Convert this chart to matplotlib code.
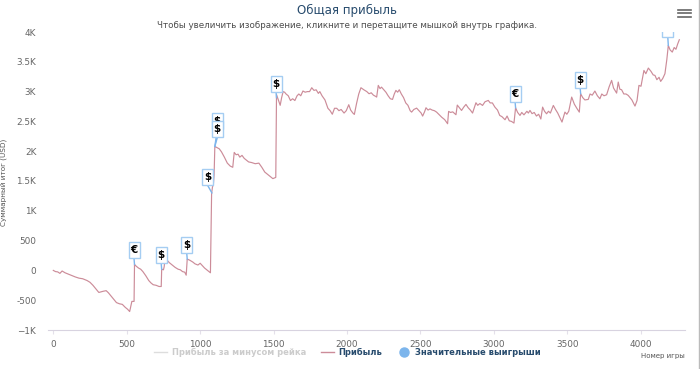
import matplotlib

matplotlib.use("Agg")
import matplotlib.pyplot as plt
from matplotlib import transforms
from matplotlib.lines import Line2D
from matplotlib.patches import Rectangle

W, H = 700, 369

game_no = [
    0, 15, 30, 45, 60, 80, 100, 125, 150, 175, 200, 230, 250, 270, 290, 310, 325, 340, 360, 375,
    390, 410, 430, 450, 470, 490, 505, 520, 535, 550, 553, 565, 580, 595, 610, 630, 650, 665, 680,
    700, 720, 735, 738, 750, 755, 760, 775, 790, 810, 830, 850, 865, 880, 895, 905, 912, 930, 950,
    965, 985, 1000, 1015, 1030, 1050, 1070, 1078, 1084, 1090, 1095, 1100, 1115, 1130, 1145, 1165,
    1185, 1205, 1222, 1232, 1245, 1258, 1270, 1285, 1300, 1315, 1330, 1350, 1375, 1400, 1420, 1440,
    1460, 1480, 1495, 1515, 1520, 1530,
    1545, 1555, 1565, 1575, 1585, 1600, 1615, 1630, 1645, 1660, 1672, 1685, 1700, 1715, 1730, 1745,
    1760, 1775, 1790, 1805, 1815, 1830, 1850, 1870, 1885, 1900, 1915, 1930, 1945, 1960, 1980, 1995,
    2012, 2025, 2040, 2050, 2065, 2080, 2095, 2115, 2135, 2150, 2165, 2180, 2195, 2202, 2213, 2225,
    2235, 2247, 2265, 2280, 2295, 2310, 2322, 2333, 2345, 2356, 2370, 2385, 2400, 2415, 2430, 2440,
    2455, 2474, 2490, 2505, 2515, 2528, 2538, 2552, 2565, 2580, 2595, 2610, 2625, 2645, 2665, 2685,
    2692, 2705, 2720, 2742, 2751, 2765, 2780, 2795, 2810, 2825, 2840, 2855, 2878, 2890, 2905, 2923,
    2940, 2962, 2975, 2990, 3007, 3025, 3040, 3055, 3076, 3090, 3105, 3120, 3137, 3148, 3162, 3178,
    3190, 3205, 3225, 3235, 3246, 3260, 3275, 3290, 3305, 3320, 3332, 3345, 3359, 3372, 3385, 3405,
    3420, 3435, 3450, 3464, 3484, 3497, 3510, 3530, 3548, 3565, 3582, 3591, 3605, 3620, 3643, 3655,
    3670, 3688, 3705, 3722, 3735, 3750, 3768, 3785, 3802, 3815, 3836, 3847, 3858, 3870, 3885, 3900,
    3915, 3940, 3961, 3975, 3988, 4002, 4022, 4035, 4052, 4070, 4085, 4097, 4110, 4125, 4136, 4150,
    4165, 4178, 4188, 4200, 4215, 4228, 4240, 4252, 4263,
]
profit = [
    0, -20, -25, -50, -10, -40, -60, -85, -110, -130, -140, -170, -200, -250, -310, -370, -360, -350,
    -340, -375, -420, -480, -540, -560, -570, -620, -650, -690, -520, -520, 100, 70, 40, 20, -20, -90,
    -170, -210, -240, -250, -270, -270, 20, 10, 60, 180, 170, 130, 90, 50, 20, 10, -20, -30, -80, 190,
    170, 140, 110, 90, 120, 80, 40, 0, -40, 1290, 1400, 1440, 1600, 2080, 2060, 2040, 1990, 1900,
    1800, 1750, 1730, 1980, 1940, 1950, 1900, 1930, 1880, 1850, 1820, 1810, 1790, 1800, 1730, 1650,
    1610, 1570, 1540, 1560, 2950, 2880,
    2770, 2900, 3000, 2990, 2960, 2930, 2850, 2880, 2850, 2930, 2960, 2930, 3010, 2990, 3000, 3000,
    3065, 3020, 3030, 2970, 3000, 2930, 2860, 2720, 2680, 2620, 2720, 2720, 2680, 2700, 2640, 2680,
    2780, 2690, 2640, 2617, 2800, 2960, 3065, 3030, 3000, 2964, 2980, 2940, 2920, 2908, 3104, 3050,
    3075, 3040, 2990, 2930, 2880, 2869, 2960, 3020, 2990, 3031, 2960, 2900, 2810, 2770, 2680, 2656,
    2700, 2723, 2680, 2640, 2589, 2660, 2729, 2690, 2710, 2690, 2680, 2656, 2620, 2570, 2530, 2461,
    2668, 2650, 2660, 2612, 2774, 2730, 2684, 2740, 2785, 2730, 2690, 2640, 2813, 2770, 2800, 2768,
    2830, 2852, 2810, 2810, 2740, 2690, 2600, 2580, 2528, 2590, 2510, 2500, 2472, 2729, 2650, 2600,
    2650, 2610, 2670, 2640, 2684, 2630, 2650, 2590, 2620, 2540, 2740, 2670, 2628, 2670, 2640, 2768,
    2700, 2640, 2560, 2489, 2656, 2620, 2670, 2908, 2790, 2720, 2656, 2964, 2900, 2860, 2869, 2960,
    2940, 3009, 2930, 2880, 2960, 2930, 2947, 3080, 3188, 3060, 2975, 3160, 3040, 3031, 2960, 2960,
    2936, 2860, 2757, 2850, 3104, 3090, 3355, 3300, 3395, 3340, 3280, 3272, 3200, 3240, 3171, 3220,
    3300, 3540, 3775, 3700, 3663, 3740, 3710, 3800, 3870,
]

# game, value, symbol, box left/bottom offset in px from the point
flag_game = [553, 738, 912, 1080, 1100, 1100, 1520, 3148, 3591, 4188]
flag_value = [100, 20, 190, 1300, 2080, 2080, 2900, 2729, 2964, 3775]
flag_symbol = ["€", "$", "$", "$", "$", "$", "$", "€", "$", ""]
flag_dx = [-6, -6, -6, -10, -3, -3, -6, -6, -6, -6]
flag_dy = [6, 6, 6, 8, 17, 9, 6, 6, 6, 8]

x_ticks = [0, 500, 1000, 1500, 2000, 2500, 3000, 3500, 4000]
y_ticks = [-1000, -500, 0, 500, 1000, 1500, 2000, 2500, 3000, 3500, 4000]
y_labels = ["−1K", "-500", "0", "500", "1K", "1.5K", "2K", "2.5K", "3K", "3.5K", "4K"]

LINE = "#cc8c99"
BLUE = "#7cb5ec"
NAVY = "#274b6d"
GREY = "#666666"


def add_flag(fig, ax, game, value, symbol, dx, dy, z):
    # size the box in pixels, anchored on the data point
    trans = fig.dpi_scale_trans + transforms.ScaledTranslation(game, value, ax.transData)
    left, bottom = dx / 100, dy / 100
    ax.plot([0, left + 0.055], [0, bottom], color=BLUE, lw=1, transform=trans, zorder=4)
    ax.add_patch(Rectangle((left, bottom), 0.11, 0.16, fc="white", ec="#a5cdf2", lw=1,
                           transform=trans, zorder=z))
    ax.text(left + 0.055, bottom + 0.08, symbol, transform=trans, ha="center", va="center",
            fontsize=7.5, fontweight="bold", color="black", clip_on=True, zorder=z + 0.5)


def main():
    fig = plt.figure(figsize=(W / 100, H / 100), dpi=100)
    ax = fig.add_axes([48 / W, 1 - 330 / H, (685 - 48) / W, (330 - 32) / H])
    ax.set_xlim((48 - 53.3) / 0.14685, (685 - 53.3) / 0.14685)
    ax.set_ylim(-1000, 4000)

    ax.plot(game_no, profit, color=LINE, lw=0.85, zorder=3)
    for i, item in enumerate(zip(flag_game, flag_value, flag_symbol, flag_dx, flag_dy)):
        add_flag(fig, ax, *item, z=5 + i)

    for side in ["top", "right", "left"]:
        ax.spines[side].set_visible(False)
    ax.spines["bottom"].set_color("#d8d3e0")
    ax.set_xticks(x_ticks)
    ax.set_yticks(y_ticks, y_labels)
    ax.tick_params(axis="x", length=3, color="#e4e0ea", labelsize=6.4, labelcolor=GREY, pad=4)
    ax.tick_params(axis="y", length=0, labelsize=6.4, labelcolor=GREY, pad=8.5)

    fig.text(347 / W, 1 - 10 / H, "Общая прибыль", ha="center", va="center", fontsize=8.5, color=NAVY)
    fig.text(347 / W, 1 - 25 / H, "Чтобы увеличить изображение, кликните и перетащите мышкой внутрь графика.",
             ha="center", va="center", fontsize=6.3, color="#4d4d4d")
    fig.text(5 / W, 1 - 182 / H, "Суммарный итог (USD)", rotation=90, ha="center", va="center",
             fontsize=5.2, color="#555555")
    fig.text(685 / W, 1 - 356 / H, "Номер игры", ha="right", va="center", fontsize=5, color="#555555")

    # legend
    handles = [
        Line2D([], [], color="#dddddd", lw=1),
        Line2D([], [], color=LINE, lw=1),
        Line2D([], [], color=BLUE, ls="", marker="o", ms=6.5),
    ]
    legend = fig.legend(handles, ["Прибыль за минусом рейка", "Прибыль", "Значительные выигрыши"],
                        loc="center", bbox_to_anchor=(347.5 / W, 1 - 352 / H), ncol=3, frameon=False,
                        prop={"size": 6.0, "weight": "bold"}, handlelength=1.5, handletextpad=0.6,
                        columnspacing=1.8, borderpad=0)
    for text, color in zip(legend.get_texts(), ["#cccccc", NAVY, NAVY]):
        text.set_color(color)

    # menu button and right edge of the screenshot
    for y in [9.5, 13, 16.5]:
        fig.add_artist(Line2D([678 / W, 691 / W], [1 - y / H] * 2, color="#666666", lw=1.2))
    fig.add_artist(Line2D([698.5 / W] * 2, [0, 1], color="#bbbbbb", lw=1))

    fig.savefig("out.png", dpi=100)
    plt.close(fig)


if __name__ == "__main__":
    main()
